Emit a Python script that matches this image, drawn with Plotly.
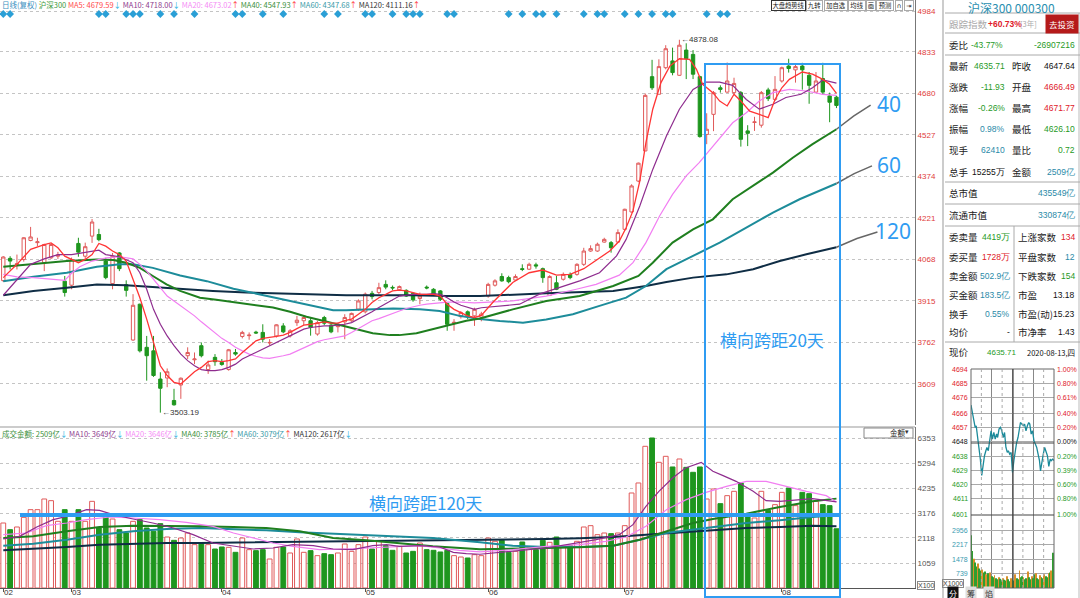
import pandas as pd
import plotly.graph_objects as go

W, H = 1080, 598


def px(x):
    return x / W


def py(y):
    return 1 - y / H


# trading days on screen, 2020-02-17 .. 2020-08-13
holidays = ['2020-04-06', '2020-05-01', '2020-05-04', '2020-05-05', '2020-06-25', '2020-06-26']
dates = [d for d in pd.bdate_range('2020-02-17', '2020-08-13') if d.strftime('%Y-%m-%d') not in holidays]
idx = list(range(len(dates)))

opens = [3990, 4072, 4050, 4068, 4138, 4130, 4056, 4074, 4080, 3988,
         3973, 4127, 4080, 4154, 4160, 4062, 3979, 4092, 3975, 3771,
         3903, 3744, 3731, 3627, 3631, 3548, 3605, 3713, 3698, 3750,
         3662, 3707, 3688, 3662, 3725, 3784, 3787, 3800, 3799, 3760,
         3786, 3823, 3786, 3835, 3842, 3842, 3793, 3854, 3826, 3820,
         3838, 3842, 3885, 3875, 3943, 3946, 3976, 3965, 3956, 3954,
         3943, 3924, 3966, 3958, 3952, 3906, 3833, 3857, 3875, 3860,
         3855, 3933, 3973, 4005, 4001, 3992, 4034, 4032, 4048, 4034,
         3935, 3982, 3995, 4013, 4013, 4050, 4099, 4099, 4132, 4130,
         4132, 4179, 4243, 4357, 4468, 4742, 4677, 4775, 4800, 4747,
         4840, 4824, 4742, 4529, 4603, 4701, 4685, 4683, 4683, 4542,
         4573, 4563, 4693, 4658, 4726, 4781, 4767, 4781, 4747, 4685,
         4735, 4671, 4666.49]
highs = [4080, 4080, 4086, 4150, 4188, 4148, 4126, 4125, 4096, 4007,
         4075, 4148, 4130, 4217, 4181, 4074, 4092, 4095, 3991, 3940,
         3905, 3786, 3786, 3652, 3666, 3591, 3633, 3744, 3725, 3762,
         3695, 3719, 3701, 3738, 3738, 3805, 3799, 3805, 3829, 3774,
         3829, 3833, 3811, 3860, 3860, 3854, 3842, 3860, 3833, 3835,
         3866, 3872, 3921, 3946, 3952, 3982, 3991, 3972, 3972, 3958,
         3946, 3946, 3972, 3962, 3955, 3909, 3848, 3878, 3880, 3890,
         3875, 3982, 3995, 4017, 4008, 4013, 4050, 4056, 4056, 4038,
         4010, 4007, 4020, 4020, 4054, 4111, 4120, 4130, 4148, 4136,
         4179, 4255, 4345, 4425, 4680, 4804, 4806, 4858, 4849, 4878.08,
         4865, 4840, 4745, 4607, 4689, 4710, 4794, 4738, 4689, 4563,
         4594, 4689, 4701, 4744, 4779, 4808, 4788, 4793, 4759, 4759,
         4793, 4683, 4671.77]
lows = [3985, 4031, 4031, 4060, 4135, 4117, 4025, 4070, 4070, 3931,
        3958, 4078, 4068, 4129, 4135, 3995, 3958, 4025, 3931, 3768,
        3725, 3621, 3635, 3503.19, 3597, 3529, 3554, 3701, 3682, 3707,
        3646, 3676, 3676, 3658, 3713, 3777, 3772, 3793, 3762, 3752,
        3780, 3796, 3780, 3823, 3826, 3787, 3787, 3826, 3796, 3799,
        3774, 3838, 3878, 3869, 3921, 3940, 3958, 3955, 3952, 3930,
        3912, 3903, 3958, 3936, 3915, 3805, 3805, 3850, 3848, 3823,
        3840, 3927, 3968, 3986, 3980, 3989, 4025, 4029, 4034, 3982,
        3933, 3955, 3990, 3995, 4008, 4044, 4096, 4096, 4130, 4093,
        4130, 4173, 4241, 4353, 4468, 4693, 4677, 4769, 4747, 4745,
        4733, 4733, 4517, 4493, 4541, 4683, 4683, 4677, 4484, 4486,
        4542, 4554, 4652, 4652, 4720, 4757, 4720, 4694, 4642, 4683,
        4677, 4574, 4626.10]
closes = [4077, 4062, 4052, 4148, 4151, 4133, 4123, 4123, 4084, 3946,
          4068, 4095, 4115, 4206, 4141, 4001, 4080, 4034, 3954, 3899,
          3731, 3713, 3640, 3593, 3654, 3532, 3630, 3725, 3701, 3713,
          3679, 3691, 3681, 3735, 3719, 3799, 3789, 3797, 3774, 3762,
          3827, 3801, 3805, 3844, 3854, 3817, 3835, 3833, 3801, 3823,
          3854, 3869, 3915, 3940, 3931, 3964, 3966, 3963, 3968, 3933,
          3919, 3933, 3963, 3940, 3921, 3829, 3836, 3872, 3857, 3884,
          3867, 3976, 3989, 3989, 3986, 4005, 4031, 4050, 4044, 4001,
          4005, 3958, 4013, 4001, 4050, 4099, 4108, 4124, 4142, 4111,
          4167, 4253, 4339, 4423, 4673, 4701, 4779, 4845, 4757, 4858,
          4808, 4751, 4521, 4548, 4683, 4695, 4726, 4717, 4511, 4533,
          4575, 4683, 4661, 4695, 4775, 4772, 4779, 4767, 4710, 4726,
          4685, 4647.64, 4635.71]

# turnover, 亿
amount = [2753, 2471, 2584, 2993, 3318, 3318, 3770, 3699, 2824, 3318,
          2824, 3318, 2824, 3671, 2542, 3008, 2923, 2471, 2330, 2824,
          2895, 2542, 2400, 2725, 2160, 2019, 2118, 2330, 1836, 1906,
          1836, 1652, 1737, 1723, 1511, 2118, 1624, 1581, 1624, 1228,
          1723, 1737, 1483, 2076, 1511, 1581, 1370, 1454, 1412, 1483,
          1864, 1553, 1836, 2160, 1652, 1977, 1793, 1596, 1765, 1483,
          1553, 1906, 1624, 1596, 1525, 1596, 1370, 1313, 1271, 1412,
          1370, 2118, 1977, 2019, 1511, 1553, 1949, 1694, 1624, 2019,
          1934, 2160, 1737, 1793, 1977, 2584, 2640, 2259, 2330, 2302,
          2330, 2640, 4024, 4448, 6001, 6354, 5323, 5577, 5126, 5464,
          5111, 4900, 5126, 3770, 4194, 3572, 3911, 4095, 4448, 3106,
          2965, 4095, 3290, 3530, 4052, 4236, 3488, 4052, 3996, 3671,
          3530, 3488, 2509]

# moving averages (x = day index)
ma5_x = [0, 2, 4, 6] + list(range(7, 71)) + [
    71.7, 74.6, 77, 79, 81, 83, 85, 86.8, 88.8, 90.2, 91.2, 92.2, 93.2, 94.1, 95.1, 96.3, 97.6, 99,
    100.5, 101.5, 102.4, 103.9, 104.9, 106, 107, 108, 109.3, 110.7, 112, 113, 114, 115.1, 117, 118.5,
    120, 121, 122]
ma5_y = [4001, 4050, 4105, 4123,
         4129, 4111, 4080, 4068, 4056, 4068, 4086, 4127, 4117, 4099, 4086, 4062, 3995, 3927, 3848, 3762,
         3676, 3640, 3615, 3609, 3633, 3654, 3670, 3691, 3695, 3691, 3695, 3701, 3725, 3747, 3768, 3777,
         3780, 3784, 3789, 3799, 3813, 3826, 3829, 3833, 3838, 3833, 3833, 3842, 3848, 3866, 3884, 3909,
         3927, 3939, 3952, 3955, 3952, 3946, 3939, 3939, 3939, 3933, 3903, 3884, 3872, 3860, 3854, 3862,
         3910, 3983, 4019, 4029, 4010, 4013, 4034, 4066, 4099, 4136, 4185, 4247, 4357, 4499, 4622, 4720,
         4781, 4808, 4806, 4769, 4714, 4683, 4652, 4634, 4677, 4652, 4615, 4603, 4591, 4658, 4701, 4732,
         4759, 4751, 4732, 4714, 4680]
ma10_x = [0, 2, 4, 6, 8, 10, 12, 14, 15, 17, 19] + list(range(20, 71)) + [
    72.7, 75.6, 78.5, 81.5, 84.4, 87.3, 89.8, 91.2, 93.2, 95.1, 97.1, 99, 101, 102.9, 104.9, 106.8,
    108.8, 110.7, 112.7, 114.6, 116.8, 118.5, 120, 122]
ma10_y = [3936, 3995, 4050, 4070, 4086, 4086, 4095, 4102, 4086, 4078, 4056,
          4019, 3958, 3884, 3829, 3786, 3750, 3719, 3695, 3676, 3662, 3658, 3658, 3662, 3670, 3682, 3701,
          3713, 3728, 3738, 3750, 3762, 3774, 3786, 3799, 3811, 3817, 3820, 3823, 3823, 3826, 3829, 3835,
          3848, 3860, 3875, 3891, 3906, 3921, 3933, 3936, 3939, 3939, 3939, 3942, 3939, 3927, 3911, 3899,
          3891, 3884, 3890,
          3897, 3903, 3940, 3964, 3989, 4019, 4081, 4142, 4265, 4400, 4523, 4622, 4695, 4722, 4722, 4710,
          4658, 4622, 4640, 4665, 4677, 4701, 4730, 4718]
ma20_x = [0, 2, 4.4, 6.8, 9, 10, 11.2, 13, 15.1, 17.1, 19] + list(range(20, 66)) + [67, 69] + [
    74.6, 79.5, 83.9, 86.8, 90.2, 92.2, 94.1, 96.1, 98, 100, 101.9, 103.9, 106.8, 108.8, 110.7, 112.7,
    115.1, 117.6, 120, 122]
ma20_y = [4013, 4004, 4001, 3997, 3991, 4017, 4041, 4062, 4074, 4078, 4070,
          4050, 4025, 3995, 3964, 3933, 3915, 3897, 3878, 3860, 3838, 3817, 3796, 3777, 3762, 3744, 3731,
          3719, 3711, 3705, 3703, 3707, 3713, 3719, 3731, 3744, 3756, 3765, 3772, 3777, 3780, 3786, 3799,
          3813, 3829, 3842, 3850, 3860, 3870, 3878, 3887, 3894, 3899, 3903, 3906, 3909, 3911,
          3911, 3908,
          3915, 3933, 3958, 3976, 4010, 4056, 4130, 4228, 4308, 4376, 4425, 4486, 4572, 4609, 4652, 4683,
          4695, 4689, 4677, 4673]
ma40_x = [0, 4.4, 9.3, 13.7, 16.1, 18, 20, 21.9, 23.9, 25.9, 28.8, 31.2, 33.7, 36.6, 39.5, 42, 44.4,
          46.8, 49.3, 51.7, 54.1, 56.6, 58, 60.5, 62.9, 65.4, 67.8, 69.8, 74.6, 79.5, 84.4, 89.3, 93,
          95.1, 98, 101, 103.9, 106.8, 109.8, 112.7, 115.6, 118.5, 122]
ma40_y = [4041, 4050, 4062, 4068, 4066, 4056, 4037, 4007, 3976, 3952, 3927, 3919, 3911, 3903, 3891,
          3875, 3857, 3842, 3826, 3809, 3796, 3789, 3789, 3796, 3811, 3829, 3842, 3850, 3884, 3915, 3933,
          3970, 4007, 4056, 4130, 4179, 4216, 4290, 4339, 4388, 4443, 4493, 4548]
ma60_x = [0, 4.4, 9.3, 13.7, 17.1, 19, 21.9, 25.9, 29.8, 33.7, 37.6, 41, 44.4, 48.3, 50.2, 53.2, 57.1,
          61, 63.9, 66.8, 69.8, 72.7, 76.1, 79.5, 83.4, 87.3, 91.2, 94.1, 97.1, 101, 104.9, 108.8, 112.7,
          116.6, 122]
ma60_y = [3988, 4004, 4019, 4041, 4050, 4050, 4037, 4009, 3988, 3960, 3939, 3921, 3903, 3881, 3881,
          3884, 3887, 3884, 3878, 3860, 3848, 3841, 3835, 3847, 3866, 3897, 3927, 3970, 4032, 4081, 4130,
          4185, 4241, 4290, 4348]
ma120_x = [0, 4.4, 9.3, 13.7, 18, 21, 25.9, 30.7, 35.6, 40.5, 45.4, 50.2, 55.1, 60, 64.9, 69.8, 79.5,
           89.3, 94.1, 97.1, 101, 105.9, 109.8, 113.7, 117.6, 122]
ma120_y = [3936, 3952, 3964, 3976, 3973, 3968, 3958, 3952, 3946, 3942, 3939, 3936, 3936, 3936, 3933,
           3933, 3943, 3952, 3970, 3985, 4001, 4013, 4032, 4062, 4087, 4113]

vma10_x = [0, 2.4, 4.9, 7.3, 9.3, 12.2, 14.1, 16.1, 19, 21.9, 24.9, 27.8, 30.7, 33.7, 36.6, 39.5, 42.4,
           45.4, 48.3, 51.2, 54.1, 56.1, 58, 61, 63.9, 65.9, 67.8, 69.8, 74.6, 79.5, 83.4, 86.8, 90.2,
           92.2, 94.1, 96, 98, 99.9, 102.2, 103.9, 105.4, 107.3, 109.8, 111.7, 113.7, 115.6, 118.5, 122]
vma10_y = [2076, 2189, 2584, 2895, 3036, 3318, 3290, 3106, 2923, 2753, 2541, 2259, 1906, 1765, 1652,
           1694, 1835, 1793, 1652, 1624, 1793, 1835, 1765, 1793, 1737, 1511, 1454, 1430, 1553, 1694,
           1878, 2047, 2259, 2683, 3459, 4095, 4660, 5083, 5323, 4942, 4758, 4518, 4095, 3699, 3671,
           3714, 3784, 3649]
vma20_x = [0, 3.4, 6.3, 9.3, 12.2, 15.6, 19, 22.9, 26.8, 30.7, 33.7, 36.6, 39.5, 42.4, 46.3, 50.2, 54.1,
           58, 61, 63.9, 66.8, 69.8, 74.6, 79.5, 84.4, 88.2, 91.2, 94.1, 97.1, 100, 102.9, 105.9, 108.8,
           111.7, 114.6, 117.6, 120.5, 122]
vma20_y = [2259, 2330, 2640, 2753, 2895, 3008, 2965, 2895, 2782, 2612, 2330, 2118, 1906, 1765, 1624,
           1652, 1694, 1765, 1793, 1694, 1596, 1530, 1624, 1765, 1835, 1977, 2160, 2612, 3318, 3742,
           4052, 4307, 4518, 4518, 4307, 4095, 3911, 3646]
vma40_x = [0, 4.4, 9.3, 14.1, 19, 23.9, 28.8, 33.7, 38.5, 43.4, 48.3, 53.2, 58, 62.9, 69.8, 74.6, 79.5,
           84.4, 89.3, 93.2, 97, 101, 103.9, 108.8, 113.7, 118.5, 122]
vma40_y = [2118, 2189, 2400, 2584, 2640, 2640, 2612, 2584, 2541, 2400, 2118, 2019, 1906, 1765, 1640,
           1652, 1694, 1723, 1793, 2047, 2400, 2753, 2923, 3149, 3431, 3671, 3785]
vma60_x = [0, 4.4, 9.3, 14.1, 19, 23.9, 28.8, 33.7, 38.5, 43.4, 48.3, 53.2, 58, 62.9, 69.8, 74.6, 79.5,
           84.4, 89.3, 93.2, 97, 101, 104.9, 108.8, 113.7, 118.5, 122]
vma60_y = [1793, 1878, 2047, 2259, 2400, 2499, 2541, 2499, 2443, 2358, 2302, 2259, 2189, 2118, 1934,
           1793, 1737, 1737, 1793, 2047, 2330, 2471, 2640, 2753, 2866, 3008, 3079]
vma120_x = [0, 4.4, 9.3, 14.1, 19, 23.9, 28.8, 38.5, 48.3, 58, 69.8, 74.6, 79.5, 84.4, 89.3, 94.1, 99,
            103.9, 108.8, 113.7, 118.5, 122]
vma120_y = [1596, 1652, 1737, 1835, 1878, 1906, 1906, 1934, 1977, 2019, 2030, 2047, 2076, 2104, 2160,
            2259, 2358, 2443, 2541, 2584, 2640, 2617]

# info-mine markers along the top
event_idx = [0, 1, 14, 15, 18, 19, 20, 23, 25, 28, 34, 35, 38, 41, 47, 49, 53, 54, 57, 59, 60, 61,
             65, 66, 74, 76, 78, 79, 81, 85, 87, 88, 91, 93, 95, 97, 98, 103, 105, 106]

price_ticks = [4984, 4833, 4680, 4527, 4374, 4221, 4068, 3915, 3762, 3609]
vol_ticks = [6353, 5294, 4235, 3176, 2118, 1059]

ma_names = ['MA5', 'MA10', 'MA20', 'MA40', 'MA60', 'MA120']
ma_last = ['4679.59', '4718.00', '4673.02', '4547.93', '4347.68', '4111.16']
ma_dir = ['↓', '↓', '↑', '↑', '↑', '↑']
vma_names = ['MA10', 'MA20', 'MA40', 'MA60', 'MA120']
vma_last = ['3649', '3646', '3785', '3079', '2617']
vma_dir = ['↓', '↓', '↑', '↑', '↓']

# intraday (Aug 13) minute chart
pre_close = 4647.64
intra_min = [0, 4, 8, 12, 15, 19, 23, 27, 31, 35, 39, 43, 46, 50, 54, 58, 62, 66, 70, 74, 77, 81, 85,
             89, 93, 97, 101, 105, 108, 112, 116, 120, 124, 128, 132, 136, 139, 143, 147, 151, 155,
             159, 163, 167, 170, 174, 178, 182, 186, 190, 194, 198, 201, 205, 209, 213, 217, 221, 225,
             229, 232, 236, 240]
intra_px = [4671.2, 4665.4, 4660.0, 4656.9, 4657.9, 4651.5, 4646.2, 4636.5, 4626.1, 4634.4, 4638.7,
            4641.9, 4644.0, 4641.9, 4649.4, 4654.7, 4649.4, 4653.6, 4649.4, 4652.6, 4650.4, 4655.8,
            4656.9, 4654.7, 4650.4, 4653.6, 4644.0, 4640.8, 4641.9, 4639.7, 4640.8, 4628.0, 4635.5,
            4641.9, 4647.2, 4650.4, 4654.7, 4660.0, 4659.0, 4657.9, 4659.0, 4654.7, 4657.9, 4660.0,
            4659.0, 4652.6, 4654.7, 4648.3, 4646.2, 4644.0, 4639.7, 4635.5, 4629.0, 4635.5, 4639.7,
            4644.0, 4641.9, 4638.7, 4631.8, 4636.5, 4635.5, 4636.5, 4635.7]
mini_vol = [2700, 1900, 1500, 1300, 1100, 1250, 1000, 900, 950, 800, 850, 700, 750, 650, 800, 600,
            550, 650, 500, 450, 550, 480, 400, 500, 420, 380, 600, 450, 350, 500, 420, 380, 700, 500,
            450, 900, 550, 600, 550, 450, 500, 850, 550, 450, 600, 500, 700, 750, 500, 450, 650, 550,
            500, 700, 600, 550, 750, 800, 900, 1800]
mini_vol_up = [0, 0, 1, 0, 0, 1, 0, 0, 1, 0, 0, 1, 0, 0, 1, 0, 0, 1, 0, 0, 1, 0, 0, 1, 0, 0, 1, 0, 0, 1,
               0, 0, 1, 0, 0, 1, 0, 0, 1, 0, 0, 1, 0, 0, 1, 0, 0, 1, 0, 0, 1, 0, 0, 1, 0, 0, 1, 0, 1, 0]
mini_vol_min = [i * 4 for i in range(len(mini_vol))]
mini_left = [4694, 4685, 4676, 4666, 4657, 4648, 4638, 4629, 4620, 4611, 4601]
mini_pct = ['1.00%', '0.80%', '0.61%', '0.40%', '0.20%', '0.00%', '0.20%', '0.39%', '0.60%', '0.80%', '1.00%']
mini_vol_ticks = [2956, 2217, 1478, 739]

# quote panel
quote_rows = [('最新', '4635.71', 'g', '昨收', '4647.64', 'k'),
              ('涨跌', '-11.93', 'g', '开盘', '4666.49', 'r'),
              ('涨幅', '-0.26%', 'g', '最高', '4671.77', 'r'),
              ('振幅', '0.98%', 't', '最低', '4626.10', 'g'),
              ('现手', '62410', 't', '量比', '0.72', 'g'),
              ('总手', '15255万', 'k', '金额', '2509亿', 't')]
book_rows = [('委卖量', '4419万', 'g', '上涨家数', '134', 'r'),
             ('委买量', '1728万', 'r', '平盘家数', '12', 't'),
             ('卖金额', '502.9亿', 't', '下跌家数', '154', 'g'),
             ('买金额', '183.5亿', 't', '市盈', '13.18', 'k'),
             ('换手', '0.55%', 't', '市盈(动)', '15.23', 'k'),
             ('均价', '-', 'k', '市净率', '1.43', 'k')]

UP = '#e05a5a'
DOWN = '#1e961e'
BLUE = '#2f9cf2'
TXT = {'g': '#1f9a1f', 'r': '#e0202a', 't': '#2a8aa8', 'k': '#111111'}
CJK = 'Noto Sans CJK SC'
NUM = 'Liberation Sans'

fig = go.Figure()

fig.add_trace(go.Candlestick(
    x=idx, open=opens, high=highs, low=lows, close=closes, xaxis='x', yaxis='y',
    increasing=dict(line=dict(color=UP, width=1), fillcolor='white'),
    decreasing=dict(line=dict(color=DOWN, width=1), fillcolor=DOWN),
    whiskerwidth=0, hoverinfo='skip', showlegend=False))

for mx, my, col, w in [(ma120_x, ma120_y, '#0f2d45', 2), (ma60_x, ma60_y, '#1d8c9a', 2),
                       (ma40_x, ma40_y, '#1f7f1f', 2), (ma20_x, ma20_y, '#f27ef2', 1.2),
                       (ma10_x, ma10_y, '#8e2c8e', 1.2), (ma5_x, ma5_y, '#ff3535', 1.3)]:
    fig.add_trace(go.Scatter(x=mx, y=my, mode='lines', line=dict(color=col, width=w),
                             xaxis='x', yaxis='y', hoverinfo='skip', showlegend=False))

fig.add_trace(go.Scatter(x=event_idx, y=[4973] * len(event_idx), mode='markers',
                         marker=dict(symbol='diamond', size=6, color='#2a9fd6'),
                         xaxis='x', yaxis='y', hoverinfo='skip', showlegend=False))

# hand drawn extensions to the 40/60/120 labels
for mx, my, x_end, y_end in [(ma40_x, ma40_y, 127, 4637), (ma60_x, ma60_y, 127.2, 4413),
                             (ma120_x, ma120_y, 128, 4169)]:
    fig.add_trace(go.Scatter(x=[mx[-1], (mx[-1] + x_end) / 2, x_end],
                             y=[my[-1], (my[-1] + y_end) / 2 + 4, y_end], mode='lines',
                             line=dict(color='#666666', width=1.5), xaxis='x', yaxis='y',
                             hoverinfo='skip', showlegend=False))

up_day = [c >= o for o, c in zip(opens, closes)]
fig.add_trace(go.Bar(x=idx, y=amount, width=0.7, xaxis='x2', yaxis='y2',
                     marker=dict(color=['white' if u else DOWN for u in up_day],
                                 line=dict(color=[UP if u else DOWN for u in up_day], width=1)),
                     hoverinfo='skip', showlegend=False))
for mx, my, col, w in [(vma120_x, vma120_y, '#0f2d45', 2), (vma60_x, vma60_y, '#1d8c9a', 2),
                       (vma40_x, vma40_y, '#1f7f1f', 2), (vma20_x, vma20_y, '#f27ef2', 1.2),
                       (vma10_x, vma10_y, '#8e2c8e', 1.2)]:
    fig.add_trace(go.Scatter(x=mx, y=my, mode='lines', line=dict(color=col, width=w),
                             xaxis='x2', yaxis='y2', hoverinfo='skip', showlegend=False))

fig.add_trace(go.Scatter(x=intra_min, y=intra_px, mode='lines', line=dict(color='#1b8a9a', width=1.3),
                         xaxis='x3', yaxis='y3', hoverinfo='skip', showlegend=False))
fig.add_trace(go.Bar(x=mini_vol_min, y=mini_vol, width=2.4, xaxis='x4', yaxis='y4',
                     marker=dict(color=['#d8902c' if u else '#2f9e2f' for u in mini_vol_up], line=dict(width=0)),
                     hoverinfo='skip', showlegend=False))

ann = []


def txt(x, y, s, size=9, color='#222', xanchor='left', font=CJK, **kw):
    ann.append(dict(x=px(x), y=py(y), xref='paper', yref='paper', text=s, showarrow=False,
                    xanchor=xanchor, yanchor='middle', font=dict(size=size, color=color, family=font), **kw))


# header lines
ma_cols = ['#ff4b4b', '#8e3a8e', '#f58cf5', '#3c8f3c', '#3a9aa8', '#333333']
arrow_col = {'↓': '#2bb0e0', '↑': '#ff3030'}
head = '<span style="color:#3a8fc0">日线(复权)</span> <span style="color:#3c9a3c">沪深300</span>'
for n, v, d, c in zip(ma_names, ma_last, ma_dir, ma_cols):
    head += ' <span style="color:%s">%s: %s</span><span style="color:%s">%s</span>' % (c, n, v, arrow_col[d], d)
txt(0, 5, head, size=7.5)
vhead = '<span style="color:#3c8f3c">成交金额: %d亿</span><span style="color:%s">↓</span>' % (amount[-1], arrow_col['↓'])
for n, v, d, c in zip(vma_names, vma_last, vma_dir, ma_cols[1:]):
    vhead += ' <span style="color:%s">%s: %s亿</span><span style="color:%s">%s</span>' % (c, n, v, arrow_col[d], d)
txt(0, 433, vhead, size=7.5)

# extreme price labels
hi_i = highs.index(max(highs))
lo_i = lows.index(min(lows))
for i, v in [(hi_i, max(highs)), (lo_i, min(lows))]:
    ann.append(dict(x=i, y=v, xref='x', yref='y', text='←%.2f' % v, showarrow=False, xanchor='left',
                    yanchor='middle', font=dict(size=8, color='#333', family=NUM)))

# month labels
month_idx = [0] + [i for i in range(1, len(dates)) if dates[i].month != dates[i - 1].month]
for i in month_idx:
    ann.append(dict(x=i - 0.2, y=py(592), xref='x2', yref='paper', text=dates[i].strftime('%m'),
                    showarrow=False, xanchor='left', yanchor='middle', font=dict(size=8, color='#333', family=NUM)))

# blue annotations
txt(875, 104, '40', size=21, color=BLUE, font='Noto Sans')
txt(875, 165, '60', size=21, color=BLUE, font='Noto Sans')
txt(873, 231, '120', size=21, color=BLUE, font='Noto Sans')
txt(772, 339, '横向跨距20天', size=17, color=BLUE, xanchor='center')
txt(425, 502, '横向跨距120天', size=17, color=BLUE, xanchor='center')

# toolbar
for lab, x0, wd in [('大盘趋势线', 771, 35), ('九转', 806, 17), ('加自选', 824, 24), ('均线', 848, 18),
                    ('画', 866, 10), ('预测', 876, 18), ('∩', 895, 8), ('⇥', 904, 10)]:
    ann.append(dict(x=px(x0), y=py(0), xref='paper', yref='paper', text=lab, showarrow=False,
                    xanchor='left', yanchor='top', width=wd - 2, height=9, borderpad=0,
                    bordercolor='#333' if lab == '大盘趋势线' else '#aaa', borderwidth=1, bgcolor='white',
                    font=dict(size=6.3, color='#222', family='DejaVu Sans' if lab in '∩⇥' else CJK)))

txt(888, 432, '金额', size=7.5)
txt(911, 432, '▾', size=7, color='#333', xanchor='right', font='DejaVu Sans')
txt(917, 585, 'X100', size=7, color='#444', font=NUM, bordercolor='#888', borderwidth=1, borderpad=0)

# quote panel texts
txt(1011, 8, '沪深300 000300', size=12, color='#2a8fb0', xanchor='center')
txt(947, 24, '跟踪指数', size=9.5, color='#aaaaaa')
txt(986, 24, '<b>+60.73%</b>', size=8.5, color=TXT['r'], font=NUM)
txt(1018, 24, '[3年]', size=7.5, color='#aaaaaa')
txt(1062, 24, '去投资', size=8.5, color='white', xanchor='center', bgcolor='#b51a1a', borderpad=3)
txt(947, 45, '委比', size=9.5)
txt(1005, 45, '-43.77%', size=8.5, color=TXT['g'], xanchor='right', font=NUM)
txt(1077, 45, '-26907216', size=8.5, color=TXT['g'], xanchor='right', font=NUM)
for y, (l1, v1, c1, l2, v2, c2) in zip([66, 87, 108, 129, 150, 172], quote_rows):
    txt(947, y, l1, size=9.5)
    txt(1007, y, v1, size=8.5, color=TXT[c1], xanchor='right', font=NUM)
    txt(1010, y, l2, size=9.5)
    txt(1077, y, v2, size=8.5, color=TXT[c2], xanchor='right', font=NUM)
txt(947, 193, '总市值', size=9.5)
txt(1077, 193, '435549亿', size=8.5, color=TXT['t'], xanchor='right', font=NUM)
txt(947, 215, '流通市值', size=9.5)
txt(1077, 215, '330874亿', size=8.5, color=TXT['t'], xanchor='right', font=NUM)
for y, (l1, v1, c1, l2, v2, c2) in zip([237, 257, 276, 295, 314, 332], book_rows):
    txt(947, y, l1, size=9.5)
    txt(1012, y, v1, size=8.5, color=TXT[c1], xanchor='right', font=NUM)
    txt(1016, y, l2, size=9.5)
    txt(1077, y, v2, size=8.5, color=TXT[c2], xanchor='right', font=NUM)
txt(947, 352, '现价', size=9.5)
txt(985, 352, '4635.71', size=8, color=TXT['g'], font=NUM)
txt(1077, 352, '2020-08-13,四', size=7.5, color='#111', xanchor='right')

# mini chart labels
for v, p in zip(mini_left, mini_pct):
    col = TXT['r'] if v > pre_close + 1 else (TXT['k'] if abs(v - pre_close) <= 1 else TXT['g'])
    ann.append(dict(x=px(970), y=v, xref='paper', yref='y3', text=str(v), showarrow=False, xanchor='right',
                    yanchor='middle', font=dict(size=7, color=col, family=NUM)))
    ann.append(dict(x=px(1055), y=v, xref='paper', yref='y3', text=p, showarrow=False, xanchor='left',
                    yanchor='middle', font=dict(size=7, color=col, family=NUM)))
for v in mini_vol_ticks:
    ann.append(dict(x=px(970), y=v, xref='paper', yref='y4', text=str(v), showarrow=False, xanchor='right',
                    yanchor='middle', font=dict(size=7, color='#3a9ab0', family=NUM)))
txt(942, 583, 'X1000', size=7, color='#444', font=NUM, bordercolor='#888', borderwidth=1, borderpad=0)
txt(953, 593, '分', size=8, color='white', xanchor='center', bgcolor='#111', borderpad=1)
txt(971, 593, '筹', size=8, color='#333', xanchor='center', bgcolor='#dddddd', borderpad=1)
txt(989, 593, '焰', size=8, color='#333', xanchor='center', bgcolor='#dddddd', borderpad=1)

shapes = []


def hline(y, x0, x1, color='#aaaaaa', width=1, dash='solid'):
    shapes.append(dict(type='line', xref='paper', yref='paper', x0=px(x0), x1=px(x1), y0=py(y), y1=py(y),
                       line=dict(color=color, width=width, dash=dash)))


def vline(x, y0, y1, color='#aaaaaa', width=1, dash='solid'):
    shapes.append(dict(type='line', xref='paper', yref='paper', x0=px(x), x1=px(x), y0=py(y0), y1=py(y1),
                       line=dict(color=color, width=width, dash=dash)))


hline(427, 0, 915, '#999999')
vline(943, 0, 598, '#999999')
vline(1079, 13, 598, '#bbbbbb')
for y in [13, 33, 55, 182, 204, 226, 342]:
    hline(y, 945, 1080)
vline(1014, 226, 342)
# mini chart frame and grid
shapes.append(dict(type='rect', xref='paper', yref='paper', x0=px(971), x1=px(1054), y0=py(588), y1=py(369),
                   line=dict(color='#666666', width=1)))
hline(443, 971, 1054, '#444444', 1.2)
hline(515, 971, 1054, '#444444', 1.2)
vline(1013, 369, 588, '#444444', 1.2)
for m in [30, 90, 150, 210]:
    shapes.append(dict(type='line', xref='x3', yref='paper', x0=m, x1=m, y0=py(588), y1=py(369),
                       line=dict(color='#aaaaaa', width=1, dash='dot')))
shapes.append(dict(type='path', xref='paper', yref='paper',
                   path='M %f %f L %f %f L %f %f Z' % (px(818), py(0), px(823), py(0), px(823), py(5)),
                   fillcolor='#e01010', line=dict(width=0)))
shapes.append(dict(type='rect', xref='paper', yref='paper', x0=px(864), x1=px(913), y0=py(438), y1=py(428),
                   line=dict(color='#888888', width=1)))
# blue overlay
shapes.append(dict(type='rect', xref='paper', yref='paper', x0=px(705), x1=px(840), y0=py(597), y1=py(64),
                   line=dict(color=BLUE, width=2)))
hline(515, 20, 840, BLUE, 4)

fig.update_layout(
    width=W, height=H, margin=dict(l=0, r=0, t=0, b=0), paper_bgcolor='white', plot_bgcolor='white',
    showlegend=False, bargap=0.3, font=dict(family=CJK, size=9),
    annotations=ann, shapes=shapes,
    xaxis=dict(domain=[0, px(915)], range=[-0.48, 133.5], anchor='y', showticklabels=False,
               showgrid=False, zeroline=False, rangeslider=dict(visible=False), fixedrange=True),
    yaxis=dict(domain=[py(425), 1], range=[3457.6, 5024.6], anchor='x', side='right',
               tickvals=price_ticks, ticktext=[str(v) for v in price_ticks],
               tickfont=dict(size=8, color='#e03c3c', family=NUM), showgrid=True, gridcolor='#c4c4c4',
               griddash='dot', zeroline=False, showline=True, linecolor='#777777', ticks=''),
    xaxis2=dict(domain=[0, px(915)], range=[-0.48, 133.5], anchor='y2', tickvals=month_idx,
                ticks='outside', ticklen=3, tickcolor='#555', showticklabels=False, showgrid=False,
                zeroline=False, showline=True, linecolor='#555555'),
    yaxis2=dict(domain=[py(588), py(427)], range=[0, 6819], anchor='x2', side='right',
                tickvals=vol_ticks, ticktext=[str(v) for v in vol_ticks],
                tickfont=dict(size=8, color='#555555', family=NUM), showgrid=True, gridcolor='#c4c4c4',
                griddash='dot', zeroline=False, showline=True, linecolor='#777777', ticks=''),
    xaxis3=dict(domain=[px(971), px(1054)], range=[0, 240], anchor='y3', tickvals=[60, 120, 180],
                showticklabels=False, showgrid=True, gridcolor='#888888', zeroline=False),
    yaxis3=dict(domain=[py(515), py(369)], range=[min(mini_left) - 0.3, max(mini_left) + 0.3], anchor='x3',
                tickvals=mini_left, showticklabels=False, showgrid=True, gridcolor='#aaaaaa', zeroline=False),
    xaxis4=dict(domain=[px(971), px(1054)], range=[0, 240], anchor='y4', tickvals=[60, 120, 180],
                showticklabels=False, showgrid=True, gridcolor='#888888', zeroline=False),
    yaxis4=dict(domain=[py(588), py(515)], range=[0, 3738], anchor='x4', tickvals=mini_vol_ticks,
                showticklabels=False, showgrid=True, gridcolor='#aaaaaa', zeroline=False),
)

# page has a default 8px body margin; drop it so the figure fills the window
fig.write_html("out.html", config={'displayModeBar': False},
               post_script="document.body.style.margin='0';document.body.style.overflow='hidden';")
